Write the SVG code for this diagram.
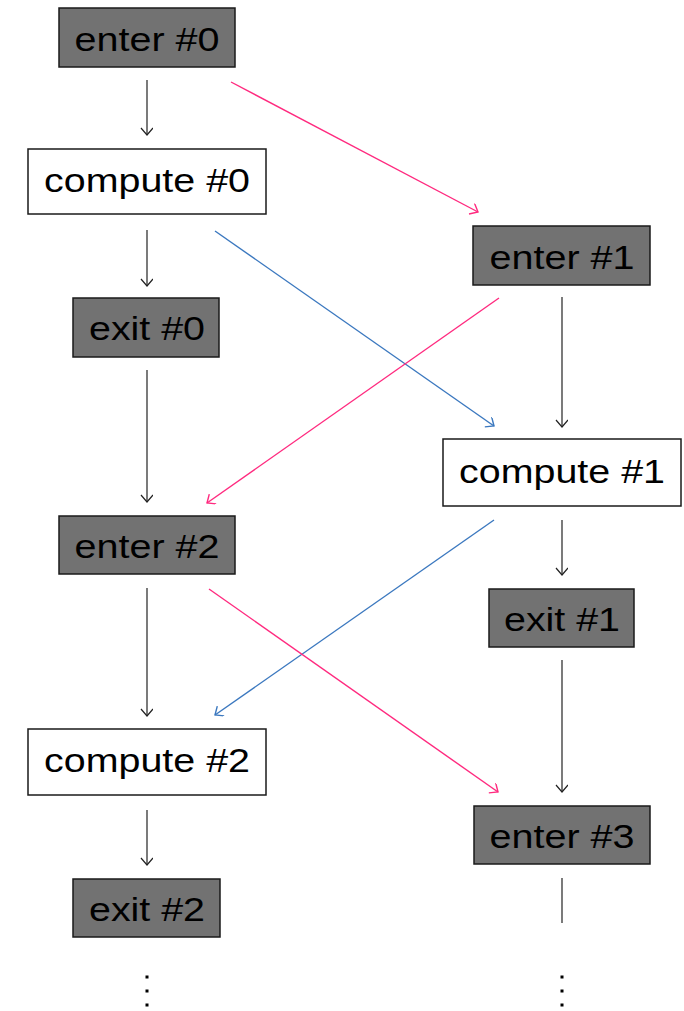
<svg xmlns="http://www.w3.org/2000/svg" width="684" height="1011" viewBox="0 0 684 1011">
  <style>
    .stage { fill: #727272; stroke: #1a1a1a; stroke-width: 1.5; }
    .work { fill: #ffffff; stroke: #1a1a1a; stroke-width: 1.5; }
    .label { font-family: "Liberation Sans", Arial, sans-serif; font-size: 34px; fill: #000; text-anchor: middle; }
    .flow { fill: none; stroke: #222; stroke-width: 1.2; }
    .pink { fill: none; stroke: #ff2a7f; stroke-width: 1.4; }
    .blue { fill: none; stroke: #3b78bf; stroke-width: 1.4; }
  </style>
  <defs>
    <marker id="headBlack" markerUnits="userSpaceOnUse" markerWidth="14" markerHeight="14" refX="8" refY="6" orient="auto">
      <path d="M1,0 L8,6 L1,12" fill="none" stroke="#222" stroke-width="1.2"/>
    </marker>
    <marker id="headPink" markerUnits="userSpaceOnUse" markerWidth="14" markerHeight="14" refX="8" refY="6" orient="auto">
      <path d="M1,0 L8,6 L1,12" fill="none" stroke="#ff2a7f" stroke-width="1.4"/>
    </marker>
    <marker id="headBlue" markerUnits="userSpaceOnUse" markerWidth="14" markerHeight="14" refX="8" refY="6" orient="auto">
      <path d="M1,0 L8,6 L1,12" fill="none" stroke="#3b78bf" stroke-width="1.4"/>
    </marker>
  </defs>

  <g id="connectors">
    <!-- left column -->
    <line class="flow" x1="147" y1="80" x2="147" y2="135" marker-end="url(#headBlack)"/>
    <line class="flow" x1="147" y1="230" x2="147" y2="286" marker-end="url(#headBlack)"/>
    <line class="flow" x1="147" y1="370" x2="147" y2="502" marker-end="url(#headBlack)"/>
    <line class="flow" x1="147" y1="588" x2="147" y2="716" marker-end="url(#headBlack)"/>
    <line class="flow" x1="147" y1="810" x2="147" y2="865" marker-end="url(#headBlack)"/>
    <!-- right column -->
    <line class="flow" x1="562" y1="297" x2="562" y2="427" marker-end="url(#headBlack)"/>
    <line class="flow" x1="562" y1="520" x2="562" y2="575" marker-end="url(#headBlack)"/>
    <line class="flow" x1="562" y1="660" x2="562" y2="792" marker-end="url(#headBlack)"/>
    <line class="flow" x1="562" y1="878" x2="562" y2="923"/>
    <!-- cross links -->
    <line class="pink" x1="231" y1="82" x2="478" y2="212" marker-end="url(#headPink)"/>
    <line class="blue" x1="215" y1="231" x2="494" y2="426" marker-end="url(#headBlue)"/>
    <line class="pink" x1="499" y1="298" x2="207" y2="503" marker-end="url(#headPink)"/>
    <line class="blue" x1="494" y1="520" x2="215" y2="715" marker-end="url(#headBlue)"/>
    <line class="pink" x1="209" y1="589" x2="498" y2="792" marker-end="url(#headPink)"/>
  </g>

  <g id="enter0">
    <rect class="stage" x="59" y="8" width="176" height="59"/>
    <text class="label" x="147" y="51" textLength="145" lengthAdjust="spacingAndGlyphs">enter #0</text>
  </g>
  <g id="compute0">
    <rect class="work" x="28" y="149" width="238" height="65"/>
    <text class="label" x="147" y="192" textLength="206" lengthAdjust="spacingAndGlyphs">compute #0</text>
  </g>
  <g id="exit0">
    <rect class="stage" x="73" y="298" width="146" height="59"/>
    <text class="label" x="147" y="340" textLength="116" lengthAdjust="spacingAndGlyphs">exit #0</text>
  </g>
  <g id="enter2">
    <rect class="stage" x="59" y="516" width="176" height="58"/>
    <text class="label" x="147" y="558" textLength="145" lengthAdjust="spacingAndGlyphs">enter #2</text>
  </g>
  <g id="compute2">
    <rect class="work" x="28" y="729" width="238" height="66"/>
    <text class="label" x="147" y="772" textLength="206" lengthAdjust="spacingAndGlyphs">compute #2</text>
  </g>
  <g id="exit2">
    <rect class="stage" x="73" y="879" width="147" height="58"/>
    <text class="label" x="147" y="921" textLength="116" lengthAdjust="spacingAndGlyphs">exit #2</text>
  </g>

  <g id="enter1">
    <rect class="stage" x="473" y="226" width="177" height="59"/>
    <text class="label" x="562" y="269" textLength="145" lengthAdjust="spacingAndGlyphs">enter #1</text>
  </g>
  <g id="compute1">
    <rect class="work" x="443" y="439" width="238" height="67"/>
    <text class="label" x="562" y="483" textLength="206" lengthAdjust="spacingAndGlyphs">compute #1</text>
  </g>
  <g id="exit1">
    <rect class="stage" x="489" y="589" width="145" height="58"/>
    <text class="label" x="562" y="631" textLength="116" lengthAdjust="spacingAndGlyphs">exit #1</text>
  </g>
  <g id="enter3">
    <rect class="stage" x="474" y="806" width="176" height="58"/>
    <text class="label" x="562" y="848" textLength="145" lengthAdjust="spacingAndGlyphs">enter #3</text>
  </g>

  <!-- continuation dots below each column -->
  <g id="continuation" fill="#000">
    <rect x="145.5" y="975.5" width="3" height="3"/>
    <rect x="145.5" y="989.5" width="3" height="3"/>
    <rect x="145.5" y="1003.5" width="3" height="3"/>
    <rect x="560.5" y="975.5" width="3" height="3"/>
    <rect x="560.5" y="989.5" width="3" height="3"/>
    <rect x="560.5" y="1003.5" width="3" height="3"/>
  </g>
</svg>
